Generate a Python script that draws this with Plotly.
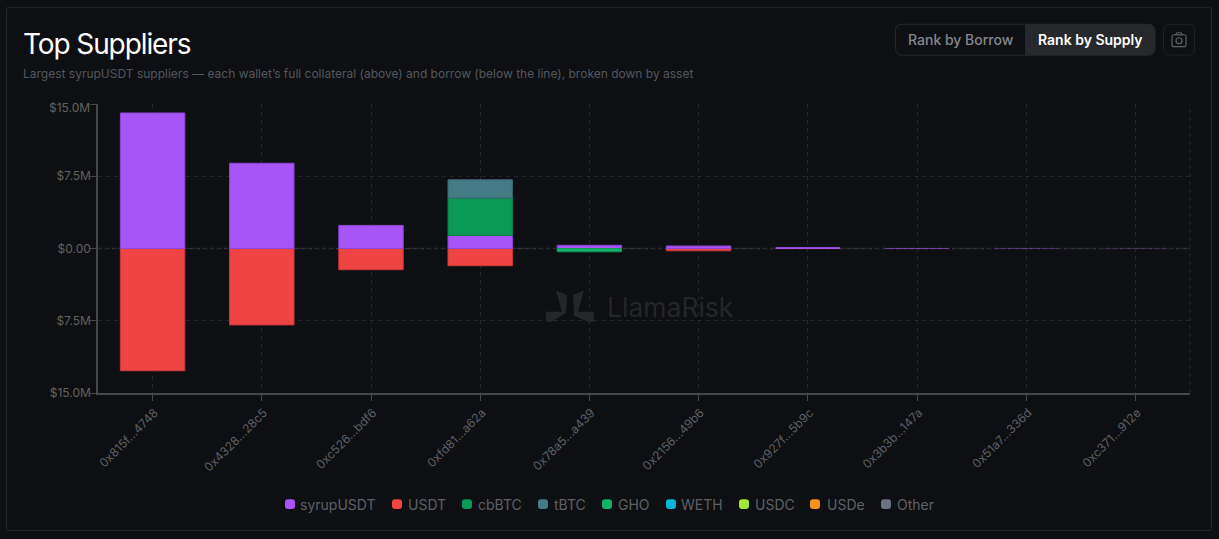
"""
Top Suppliers chart: stacked collateral / borrow per wallet
"""

import plotly.graph_objects as go

WIDTH = 1219
HEIGHT = 539
PLOT_LEFT = 98
PLOT_RIGHT = 1190
PLOT_TOP = 103.5
PLOT_BOTTOM = 393.5

wallets = ["0x815f...4748", "0x4328...28c5", "0xc526...bdf6", "0xfd81...a62a", "0x78a5...a439",
           "0x2156...49b6", "0x927f...5b9c", "0x3b3b...147a", "0x51a7...336d", "0xc371...912e"]

# millions of USD, collateral is positive and borrow negative
syrup_usdt = [14.07, 8.85, 2.40, 1.36, 0.33, 0.26, 0.13, 0.05, 0.03, 0.02]
usdt = [-12.69, -7.93, -2.20, -1.79, None, -0.24, -0.05, None, None, None]
cbbtc = [None, None, None, 3.87, None, None, None, None, None, None]
tbtc = [None, None, None, 1.91, None, None, None, None, None, None]
gho = [None, None, None, None, -0.34, None, None, None, None, None]
weth = [None] * 10
usdc = [None] * 10
usde = [None] * 10
other = [None] * 10

assets = ["syrupUSDT", "USDT", "cbBTC", "tBTC", "GHO", "WETH", "USDC", "USDe", "Other"]
asset_values = [syrup_usdt, usdt, cbbtc, tbtc, gho, weth, usdc, usde, other]
asset_colors = ["#a855f7", "#ef4444", "#0a9956", "#457b85", "#10b368", "#06b6d4", "#a3e635", "#f7931a", "#6b7280"]
asset_edges = ["#8f45d6", "#cc3a3a", "#0a7f49", "#3a6770", "#0e9658", "#06b6d4", "#a3e635", "#f7931a", "#6b7280"]

# USDT goes first so the purple stays on top where hairline bars share a pixel
draw_order = [1, 0, 2, 3, 4, 5, 6, 7, 8]

# the smallest wallets are hairlines that fade out
bar_edge_widths = [1, 1, 1, 1, 1, 1, 0, 0, 0, 0]
bar_opacity = [1, 1, 1, 1, 1, 1, 0.85, 0.6, 0.35, 0.2]

y_ticks = [-15, -7.5, 0, 7.5, 15]
y_tick_labels = ["$15.0M", "$7.5M", "$0.00", "$7.5M", ""]
top_tick_label = "$15.0M"

# left edge of each swatch and of each label in the hand drawn legend
legend_swatch_x = [285, 392, 462, 538, 602, 666, 739, 810, 881]
legend_label_x = [298, 405.5, 476, 551.5, 615.5, 679, 752.5, 824.5, 894.5]

FONT = "Inter, 'Noto Sans', sans-serif"
BG = "#0d0f13"
EDGE = "#24262b"
GRID = "#24262a"
AXIS = "#47484a"
MUTED = "#5f6064"
TICK_TEXT = "#64625c"
ICON = "#5d5f63"


def px(x):
    return (x - PLOT_LEFT) / (PLOT_RIGHT - PLOT_LEFT)


def py(y):
    return (PLOT_BOTTOM - y) / (PLOT_BOTTOM - PLOT_TOP)


def poly(points):
    return "M" + "L".join(f"{px(x):.5f},{py(y):.5f}" for x, y in points) + "Z"


def rounded(x0, y0, x1, y1, r):
    """Path of a rounded rectangle, in picture pixels"""
    return (f"M{px(x0 + r):.5f},{py(y0):.5f}L{px(x1 - r):.5f},{py(y0):.5f}"
            f"Q{px(x1):.5f},{py(y0):.5f} {px(x1):.5f},{py(y0 + r):.5f}"
            f"L{px(x1):.5f},{py(y1 - r):.5f}Q{px(x1):.5f},{py(y1):.5f} {px(x1 - r):.5f},{py(y1):.5f}"
            f"L{px(x0 + r):.5f},{py(y1):.5f}Q{px(x0):.5f},{py(y1):.5f} {px(x0):.5f},{py(y1 - r):.5f}"
            f"L{px(x0):.5f},{py(y0 + r):.5f}Q{px(x0):.5f},{py(y0):.5f} {px(x0 + r):.5f},{py(y0):.5f}Z")


def path_shape(path, fill="rgba(0,0,0,0)", line=None, width=1, layer="above"):
    return dict(type="path", xref="paper", yref="paper", path=path, fillcolor=fill,
                line=dict(color=line or "rgba(0,0,0,0)", width=width if line else 0), layer=layer)


def label(text, x, y, size, color, anchor="left", weight=400):
    return dict(text=text, xref="paper", yref="paper", x=px(x), y=py(y), xanchor=anchor, yanchor="middle",
                showarrow=False, font=dict(family=FONT, size=size, color=color, weight=weight))


fig = go.Figure()
for i in draw_order:
    fig.add_trace(go.Bar(x=wallets, y=asset_values[i], name=assets[i], width=0.59, showlegend=False,
                         marker=dict(color=asset_colors[i], opacity=bar_opacity,
                                     line=dict(color=asset_edges[i], width=bar_edge_widths))))

shapes = [
    # card, below everything else
    path_shape(rounded(6.5, 6.5, 1211.5, 531.5, 2), line=EDGE, layer="below"),
    # zero line and the last vertical grid line
    dict(type="line", xref="paper", yref="y", x0=0, x1=1, y0=0, y1=0, layer="below",
         line=dict(color="#36373a", width=1.5, dash="4px,3px")),
    dict(type="line", xref="paper", yref="paper", x0=1, x1=1, y0=0, y1=1, layer="below",
         line=dict(color=GRID, width=1, dash="4px,4px")),
    # watermark
    path_shape(poly([(556, 291), (567, 295), (566, 313), (552, 322), (546, 322), (546, 312), (562, 312)]),
               fill="#24262a", layer="below"),
    path_shape(poly([(584, 291), (573, 295), (574, 316), (588, 322), (594, 322), (594, 312), (578, 312)]),
               fill="#24262a", layer="below"),
    # rank buttons
    path_shape(rounded(895.5, 23.5, 1155, 54.5, 7), line="#26282d"),
    path_shape(f"M{px(1025):.5f},{py(23.5):.5f}L{px(1148):.5f},{py(23.5):.5f}"
               f"Q{px(1155):.5f},{py(23.5):.5f} {px(1155):.5f},{py(30.5):.5f}"
               f"L{px(1155):.5f},{py(47.5):.5f}Q{px(1155):.5f},{py(54.5):.5f} {px(1148):.5f},{py(54.5):.5f}"
               f"L{px(1025):.5f},{py(54.5):.5f}Z", fill="#27282c"),
    # camera button and icon
    path_shape(rounded(1163.5, 23.5, 1194.5, 54.5, 7), line="#1f2126"),
    path_shape(rounded(1172, 34, 1186, 46, 2), line=ICON, width=1.2),
    path_shape(poly([(1175.5, 34), (1177, 32), (1181, 32), (1182.5, 34)]), line=ICON, width=1.2),
    dict(type="circle", xref="paper", yref="paper", x0=px(1176), x1=px(1182), y0=py(43), y1=py(37),
         line=dict(color=ICON, width=1.2)),
]

annotations = [
    label('<span style="letter-spacing:-1.1px">Top Suppliers</span>', 21, 43, 28, "#ffffff", weight=400),
    label("Largest syrupUSDT suppliers — each wallet’s full collateral (above) and borrow (below the line), "
          "broken down by asset", 21, 72.5, 12, "#55575c"),
    label("LlamaRisk", 604.5, 307, 26.5, "#24262a"),
    label("Rank by Borrow", 960.5, 39, 14, "#85878c", anchor="center", weight=500),
    label("Rank by Supply", 1090, 39, 14, "#ffffff", anchor="center", weight=600),
    label(top_tick_label, 92, 107, 12, TICK_TEXT, anchor="right"),
]

for name, color, swatch_x, label_x in zip(assets, asset_colors, legend_swatch_x, legend_label_x):
    shapes.append(path_shape(rounded(swatch_x, 500, swatch_x + 10, 510, 3), fill=color))
    annotations.append(label(name, label_x, 505, 14, MUTED))

fig.update_layout(
    width=WIDTH,
    height=HEIGHT,
    autosize=False,
    barmode="relative",
    showlegend=False,
    paper_bgcolor=BG,
    plot_bgcolor=BG,
    font=dict(family=FONT, color=MUTED),
    margin=dict(l=PLOT_LEFT, r=WIDTH - PLOT_RIGHT, t=PLOT_TOP, b=HEIGHT - PLOT_BOTTOM, pad=0),
    shapes=shapes,
    annotations=annotations,
)
fig.update_xaxes(
    type="category",
    tickangle=-45,
    tickfont=dict(size=12, color=MUTED),
    ticklabelshift=2,
    ticks="outside",
    ticklen=6,
    tickcolor=AXIS,
    showline=True,
    linecolor=AXIS,
    linewidth=2,
    showgrid=True,
    gridcolor=GRID,
    griddash="4px,4px",
    fixedrange=True,
)
fig.update_yaxes(
    range=[-15, 15],
    tickvals=y_ticks,
    ticktext=y_tick_labels,
    tickfont=dict(size=12, color=TICK_TEXT),
    ticklabelstandoff=-3,
    ticks="outside",
    ticklen=6,
    tickcolor=AXIS,
    showline=True,
    linecolor=AXIS,
    linewidth=1.5,
    showgrid=True,
    gridcolor=GRID,
    griddash="4px,4px",
    zeroline=False,
    fixedrange=True,
)

fig.write_html("out.html", config={"displayModeBar": False},
               post_script=f"document.body.style.margin='0';document.body.style.background='{BG}';")
